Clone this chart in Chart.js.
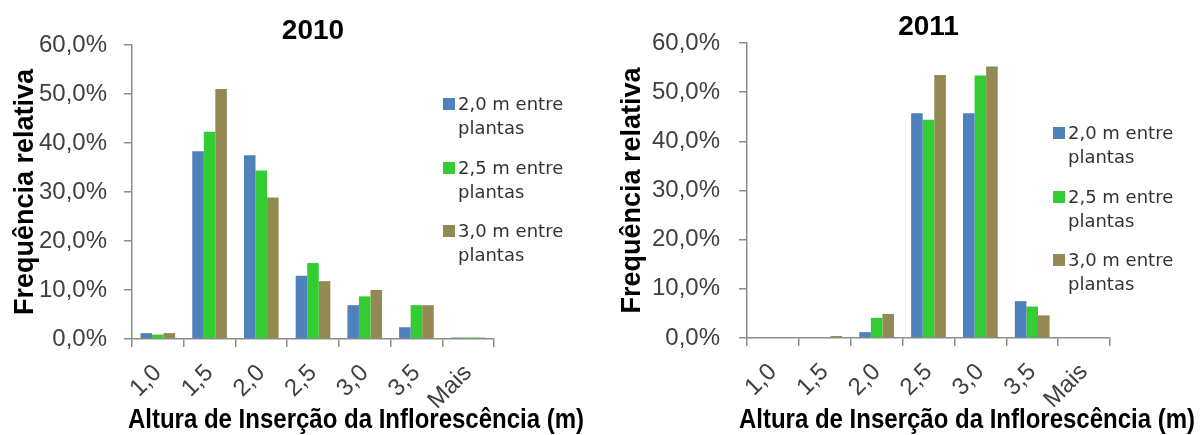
<!DOCTYPE html>
<html lang="pt">
<head>
  <meta charset="UTF-8" />
  <title>Altura de Inserção da Inflorescência – 2010 e 2011</title>
  <script src="https://cdn.jsdelivr.net/npm/chart.js"></script>
  <style>
    body {
      margin: 0;
      background: #fff;
      font-family: "Liberation Sans", Arial, sans-serif;
    }
    #wrap { position: relative; width: 1200px; height: 435px; overflow: hidden; }
    .panel { position: absolute; top: 0; width: 600px; height: 435px; }
    .legend {
      position: absolute;
      font-family: "DejaVu Sans", sans-serif;
      font-size: 18px;
      line-height: 24px;
      color: #333;
    }
    .legend .item { display: flex; margin-bottom: 15.5px; }
    .legend .box { width: 12px; height: 12px; margin-top: 6px; margin-right: 3px; flex: none; }
    .xtitle {
      position: absolute;
      top: 404px;
      font-weight: bold;
      font-size: 24px;
      line-height: 30px;
      color: #000;
      white-space: nowrap;
      transform: translateX(-50%) scaleY(1.15);
    }
  </style>
</head>
<body>
  <div id="wrap">
    <div class="panel" style="left:0"><canvas id="c2010" width="600" height="435"></canvas></div>
    <div class="panel" style="left:600px"><canvas id="c2011" width="600" height="435"></canvas></div>

    <div class="legend" id="leg2010" style="left:443px; top:92px"></div>
    <div class="legend" id="leg2011" style="left:1053px; top:121px"></div>

    <div class="xtitle" style="left:356px">Altura de Inserção da Inflorescência (m)</div>
    <div class="xtitle" style="left:967px">Altura de Inserção da Inflorescência (m)</div>
  </div>

  <script>
    // classes de altura (m)
    const categorias = ["1,0", "1,5", "2,0", "2,5", "3,0", "3,5", "Mais"];
    const series = ["2,0 m entre plantas", "2,5 m entre plantas", "3,0 m entre plantas"];
    const cores = ["#4F81BD", "#33CC33", "#938953"];

    // frequência relativa (%)
    const f2010_20 = [1.2, 38.3, 37.5, 12.9, 6.9, 2.4, 0.3];
    const f2010_25 = [0.9, 42.3, 34.4, 15.5, 8.7, 6.9, 0.3];
    const f2010_30 = [1.2, 51.0, 28.9, 11.8, 10.0, 6.9, 0.3];

    const f2011_20 = [0, 0, 1.2, 45.7, 45.7, 7.5, 0];
    const f2011_25 = [0, 0, 4.1, 44.4, 53.4, 6.4, 0];
    const f2011_30 = [0, 0.4, 4.9, 53.5, 55.2, 4.6, 0];

    const yTicks = { min: 0, max: 60, step: 10 };

    const axisGray = "#8c8c8c";
    const tickFont = { family: "'Liberation Sans', Arial, sans-serif", size: 24 };

    function montarLegenda(id) {
      const el = document.getElementById(id);
      series.forEach((s, i) => {
        const partes = s.split(" ");
        const item = document.createElement("div");
        item.className = "item";
        item.innerHTML = `<span class="box" style="background:${cores[i]}"></span>` +
          `<span>${partes.slice(0, 3).join(" ")}<br>${partes.slice(3).join(" ")}</span>`;
        el.appendChild(item);
      });
    }

    function grafico(canvasId, titulo, dados, g) {
      return new Chart(document.getElementById(canvasId), {
        type: "bar",
        data: {
          labels: categorias,
          datasets: dados.map((d, i) => ({
            label: series[i],
            data: d,
            backgroundColor: cores[i],
            borderWidth: 0,
            categoryPercentage: 0.67,
            barPercentage: 1.0
          }))
        },
        options: {
          responsive: false,
          animation: false,
          layout: { padding: { left: 0, right: g.padRight, top: 0, bottom: 0 } },
          plugins: {
            legend: { display: false },
            tooltip: { enabled: false },
            title: {
              display: true,
              text: titulo,
              fullSize: false,
              color: "#000",
              font: { family: "'Liberation Sans', Arial, sans-serif", size: 28, weight: "bold", lineHeight: 1 },
              padding: { top: g.titleTop, bottom: g.titleBottom }
            }
          },
          scales: {
            x: {
              grid: {
                display: true,
                offset: true,
                drawOnChartArea: false,
                drawTicks: true,
                tickLength: 8,
                color: axisGray,
                lineWidth: 1.5
              },
              border: { color: axisGray, width: 1.5 },
              ticks: {
                color: "#404040",
                font: tickFont,
                maxRotation: 45,
                minRotation: 45,
                autoSkip: false,
                padding: 12
              },
              afterFit: (axis) => { axis.height = g.xHeight; }
            },
            y: {
              min: yTicks.min,
              max: yTicks.max,
              grid: {
                drawOnChartArea: false,
                drawTicks: true,
                tickLength: 8,
                color: axisGray,
                lineWidth: 1.5
              },
              border: { color: axisGray, width: 1.5 },
              ticks: {
                stepSize: yTicks.step,
                color: "#404040",
                font: tickFont,
                padding: g.tickPad,
                callback: (v) => v.toFixed(1).replace(".", ",") + "%"
              },
              title: {
                display: true,
                text: "Frequência relativa",
                color: "#000",
                font: { family: "'Liberation Sans', Arial, sans-serif", size: 27, weight: "bold" },
                padding: { top: g.yTitlePad, bottom: 0 }
              },
              afterFit: (axis) => { axis.width = g.yWidth; }
            }
          }
        }
      });
    }

    montarLegenda("leg2010");
    montarLegenda("leg2011");

    grafico("c2010", "2010", [f2010_20, f2010_25, f2010_30],
      { padRight: 106, yWidth: 132, xHeight: 96, tickPad: 17, yTitlePad: 9, titleTop: 17, titleBottom: 0 });
    grafico("c2011", "2011", [f2011_20, f2011_25, f2011_30],
      { padRight: 90, yWidth: 147, xHeight: 97, tickPad: 19, yTitlePad: 16, titleTop: 13, titleBottom: 2 });
  </script>
</body>
</html>
